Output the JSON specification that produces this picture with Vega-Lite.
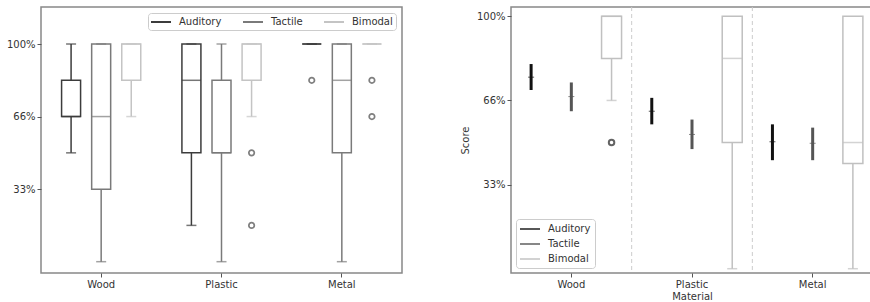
{
  "$schema": "https://vega.github.io/schema/vega-lite/v6.json",
  "autosize": {"type": "pad"},
  "padding": {"left": 5, "top": 5, "right": 0, "bottom": 0},
  "background": "white",
  "bounds": "flush",
  "spacing": 109,
  "datasets": {
    "leftBox": [
      {"material": "Wood", "group": "Auditory", "lo": 50, "q1": 66.67, "med": 66.67, "q3": 83.33, "hi": 100},
      {"material": "Wood", "group": "Tactile", "lo": 0, "q1": 33.33, "med": 66.67, "q3": 100, "hi": 100},
      {"material": "Wood", "group": "Bimodal", "lo": 66.67, "q1": 83.33, "med": 100, "q3": 100, "hi": 100},
      {"material": "Plastic", "group": "Auditory", "lo": 16.67, "q1": 50, "med": 83.33, "q3": 100, "hi": 100},
      {"material": "Plastic", "group": "Tactile", "lo": 0, "q1": 50, "med": 50, "q3": 83.33, "hi": 100},
      {"material": "Plastic", "group": "Bimodal", "lo": 66.67, "q1": 83.33, "med": 100, "q3": 100, "hi": 100},
      {"material": "Metal", "group": "Auditory", "lo": 100, "q1": 100, "med": 100, "q3": 100, "hi": 100},
      {"material": "Metal", "group": "Tactile", "lo": 0, "q1": 50, "med": 83.33, "q3": 100, "hi": 100},
      {"material": "Metal", "group": "Bimodal", "lo": 100, "q1": 100, "med": 100, "q3": 100, "hi": 100}
    ],
    "leftOut": [
      {"material": "Plastic", "group": "Bimodal", "score": 50},
      {"material": "Plastic", "group": "Bimodal", "score": 16.67},
      {"material": "Metal", "group": "Auditory", "score": 83.33},
      {"material": "Metal", "group": "Bimodal", "score": 83.33},
      {"material": "Metal", "group": "Bimodal", "score": 66.67}
    ],
    "rightErr": [
      {"material": "Wood", "group": "Auditory", "mean": 75.9, "lo": 70.8, "hi": 81.1},
      {"material": "Wood", "group": "Tactile", "mean": 68.2, "lo": 62.4, "hi": 73.8},
      {"material": "Plastic", "group": "Auditory", "mean": 62.4, "lo": 57.2, "hi": 67.7},
      {"material": "Plastic", "group": "Tactile", "mean": 53.2, "lo": 47.4, "hi": 59.1},
      {"material": "Metal", "group": "Auditory", "mean": 50.3, "lo": 43, "hi": 57.2},
      {"material": "Metal", "group": "Tactile", "mean": 49.7, "lo": 43, "hi": 55.9}
    ],
    "rightBox": [
      {"material": "Wood", "group": "Bimodal", "lo": 66.67, "q1": 83.33, "med": 100, "q3": 100, "hi": 100},
      {"material": "Plastic", "group": "Bimodal", "lo": 0, "q1": 50, "med": 83.33, "q3": 100, "hi": 100},
      {"material": "Metal", "group": "Bimodal", "lo": 0, "q1": 41.67, "med": 50, "q3": 100, "hi": 100}
    ],
    "rightOut": [
      {"material": "Wood", "group": "Bimodal", "score": 50}
    ],
    "seps": [
      {"material": "Plastic"},
      {"material": "Metal"}
    ]
  },
  "hconcat": [
    {
      "width": 361,
      "height": 266,
      "layer": [
        {
          "data": {"name": "leftBox"},
          "mark": {"type": "rule", "strokeWidth": 1.5},
          "encoding": {
            "x": {"field": "material", "type": "nominal", "sort": ["Wood", "Plastic", "Metal"], "scale": {"type": "band", "paddingInner": 0, "paddingOuter": 0}, "axis": {"labelAngle": 0, "title": null}},
            "xOffset": {"field": "group", "type": "nominal", "scale": {"domain": ["Auditory", "Tactile", "Bimodal"], "paddingInner": 0, "paddingOuter": 0.5}},
            "y": {"field": "lo", "type": "quantitative", "scale": {"domain": [-5.2, 117], "nice": false, "zero": false}, "axis": {"values": [33.333, 66.667, 100], "labelExpr": "datum.value > 99 ? '100%' : datum.value > 50 ? '66%' : '33%'", "title": null}},
            "y2": {"field": "q1"},
            "color": {"field": "group", "type": "nominal", "scale": {"domain": ["Auditory", "Tactile", "Bimodal"], "range": ["#3c3c3c", "#7a7a7a", "#c4c4c4"]},
              "legend": {"title": null, "orient": "top-right", "direction": "horizontal", "offset": 6, "padding": 3, "strokeColor": "#cccccc", "fillColor": "white", "cornerRadius": 3, "symbolType": "M-2,0H2", "symbolSize": 100, "symbolOffset": 4, "symbolStrokeWidth": 2, "labelOffset": 12, "columnPadding": 17, "labelFontSize": 10, "labelFont": "DejaVu Sans", "labelColor": "#333333"}}
          }
        },
        {
          "data": {"name": "leftBox"},
          "mark": {"type": "rule", "strokeWidth": 1.5},
          "encoding": {
            "x": {"field": "material", "type": "nominal", "sort": ["Wood", "Plastic", "Metal"]},
            "xOffset": {"field": "group", "type": "nominal"},
            "y": {"field": "q3", "type": "quantitative"},
            "y2": {"field": "hi"},
            "color": {"field": "group", "type": "nominal"}
          }
        },
        {
          "data": {"name": "leftBox"},
          "mark": {"type": "bar", "width": 19, "filled": false, "fill": "white", "strokeWidth": 1.5},
          "encoding": {
            "x": {"field": "material", "type": "nominal", "sort": ["Wood", "Plastic", "Metal"]},
            "xOffset": {"field": "group", "type": "nominal"},
            "y": {"field": "q1", "type": "quantitative"},
            "y2": {"field": "q3"},
            "color": {"field": "group", "type": "nominal"}
          }
        },
        {
          "data": {"name": "leftBox"},
          "mark": {"type": "tick", "size": 19, "thickness": 1.5},
          "encoding": {
            "x": {"field": "material", "type": "nominal", "sort": ["Wood", "Plastic", "Metal"]},
            "xOffset": {"field": "group", "type": "nominal"},
            "y": {"field": "med", "type": "quantitative"},
            "color": {"field": "group", "type": "nominal"}
          }
        },
        {
          "data": {"name": "leftBox"},
          "mark": {"type": "tick", "size": 10, "thickness": 1.5},
          "encoding": {
            "x": {"field": "material", "type": "nominal", "sort": ["Wood", "Plastic", "Metal"]},
            "xOffset": {"field": "group", "type": "nominal"},
            "y": {"field": "lo", "type": "quantitative"},
            "color": {"field": "group", "type": "nominal"}
          }
        },
        {
          "data": {"name": "leftBox"},
          "mark": {"type": "tick", "size": 10, "thickness": 1.5},
          "encoding": {
            "x": {"field": "material", "type": "nominal", "sort": ["Wood", "Plastic", "Metal"]},
            "xOffset": {"field": "group", "type": "nominal"},
            "y": {"field": "hi", "type": "quantitative"},
            "color": {"field": "group", "type": "nominal"}
          }
        },
        {
          "data": {"name": "leftOut"},
          "mark": {"type": "point", "filled": false, "size": 30, "strokeWidth": 1.7, "color": "#4a4a4a"},
          "encoding": {
            "x": {"field": "material", "type": "nominal", "sort": ["Wood", "Plastic", "Metal"]},
            "xOffset": {"field": "group", "type": "nominal"},
            "y": {"field": "score", "type": "quantitative"}
          }
        }
      ]
    },
    {
      "width": 362,
      "height": 266,
      "layer": [
        {
          "data": {"name": "seps"},
          "mark": {"type": "rule", "strokeDash": [4, 3], "color": "#cccccc", "strokeWidth": 1},
          "encoding": {
            "x": {"field": "material", "type": "nominal", "bandPosition": 0, "sort": ["Wood", "Plastic", "Metal"], "scale": {"type": "band", "domain": ["Wood", "Plastic", "Metal"], "paddingInner": 0, "paddingOuter": 0}, "axis": {"labelAngle": 0, "title": "Material", "titlePadding": 2}}
          }
        },
        {
          "data": {"name": "rightErr"},
          "mark": {"type": "rule", "strokeWidth": 3},
          "encoding": {
            "x": {"field": "material", "type": "nominal", "sort": ["Wood", "Plastic", "Metal"]},
            "xOffset": {"field": "group", "type": "nominal", "scale": {"domain": ["Auditory", "Tactile", "Bimodal"], "paddingInner": 0, "paddingOuter": 0}},
            "y": {"field": "lo", "type": "quantitative", "scale": {"domain": [-1.7, 103.7], "nice": false, "zero": false}, "axis": {"values": [33.333, 66.667, 100], "labelExpr": "datum.value > 99 ? '100%' : datum.value > 50 ? '66%' : '33%'", "title": "Score", "titlePadding": 6}},
            "y2": {"field": "hi"},
            "color": {"field": "group", "type": "nominal", "scale": {"domain": ["Auditory", "Tactile", "Bimodal"], "range": ["#111111", "#555555", "#c0c0c0"]},
              "legend": {"title": null, "orient": "bottom-left", "direction": "vertical", "offset": 5, "padding": 4, "rowPadding": 4, "strokeColor": "#cccccc", "fillColor": "white", "cornerRadius": 3, "symbolType": "M-2,0H2", "symbolSize": 100, "symbolOffset": 4, "symbolStrokeWidth": 2, "labelOffset": 12, "labelFontSize": 10, "labelFont": "DejaVu Sans", "labelColor": "#333333"}}
          }
        },
        {
          "data": {"name": "rightErr"},
          "mark": {"type": "tick", "size": 6, "thickness": 1},
          "encoding": {
            "x": {"field": "material", "type": "nominal", "sort": ["Wood", "Plastic", "Metal"]},
            "xOffset": {"field": "group", "type": "nominal"},
            "y": {"field": "mean", "type": "quantitative"},
            "color": {"field": "group", "type": "nominal"}
          }
        },
        {
          "data": {"name": "rightBox"},
          "mark": {"type": "rule", "strokeWidth": 1.5},
          "encoding": {
            "x": {"field": "material", "type": "nominal", "sort": ["Wood", "Plastic", "Metal"]},
            "xOffset": {"field": "group", "type": "nominal"},
            "y": {"field": "lo", "type": "quantitative"},
            "y2": {"field": "q1"},
            "color": {"field": "group", "type": "nominal"}
          }
        },
        {
          "data": {"name": "rightBox"},
          "mark": {"type": "bar", "width": 20, "filled": false, "fill": "white", "strokeWidth": 1.5},
          "encoding": {
            "x": {"field": "material", "type": "nominal", "sort": ["Wood", "Plastic", "Metal"]},
            "xOffset": {"field": "group", "type": "nominal"},
            "y": {"field": "q1", "type": "quantitative"},
            "y2": {"field": "q3"},
            "color": {"field": "group", "type": "nominal"}
          }
        },
        {
          "data": {"name": "rightBox"},
          "mark": {"type": "tick", "size": 20, "thickness": 1.5},
          "encoding": {
            "x": {"field": "material", "type": "nominal", "sort": ["Wood", "Plastic", "Metal"]},
            "xOffset": {"field": "group", "type": "nominal"},
            "y": {"field": "med", "type": "quantitative"},
            "color": {"field": "group", "type": "nominal"}
          }
        },
        {
          "data": {"name": "rightBox"},
          "mark": {"type": "tick", "size": 10, "thickness": 1.5},
          "encoding": {
            "x": {"field": "material", "type": "nominal", "sort": ["Wood", "Plastic", "Metal"]},
            "xOffset": {"field": "group", "type": "nominal"},
            "y": {"field": "lo", "type": "quantitative"},
            "color": {"field": "group", "type": "nominal"}
          }
        },
        {
          "data": {"name": "rightOut"},
          "mark": {"type": "point", "filled": false, "size": 30, "strokeWidth": 2, "color": "#222222"},
          "encoding": {
            "x": {"field": "material", "type": "nominal", "sort": ["Wood", "Plastic", "Metal"]},
            "xOffset": {"field": "group", "type": "nominal"},
            "y": {"field": "score", "type": "quantitative"}
          }
        }
      ]
    }
  ],
  "resolve": {"scale": {"color": "independent", "x": "independent", "y": "independent", "xOffset": "independent"}, "legend": {"color": "independent"}},
  "config": {
    "view": {"stroke": "#888888", "strokeWidth": 1.5},
    "axis": {"labelFont": "DejaVu Sans", "labelFontSize": 10, "labelColor": "#333333", "titleFont": "DejaVu Sans", "titleFontSize": 10, "titleFontWeight": "normal", "titleColor": "#333333", "domain": false, "grid": false, "tickColor": "#555555", "tickSize": 4, "labelPadding": 2}
  }
}
